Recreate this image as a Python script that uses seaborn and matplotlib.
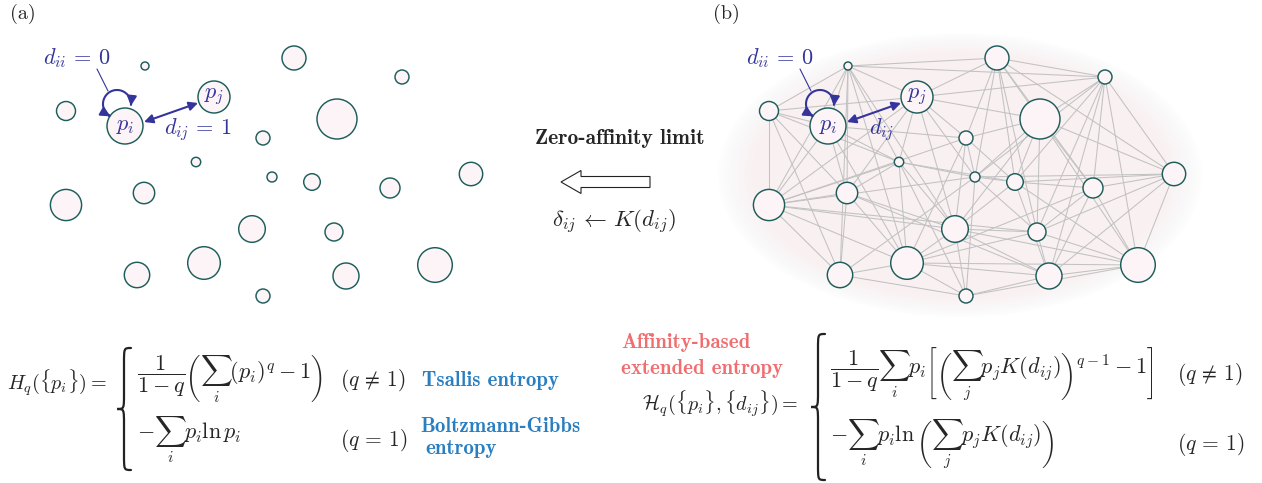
import numpy as np
import pandas as pd
import matplotlib
matplotlib.use('Agg')
import matplotlib.pyplot as plt
import seaborn as sns
from matplotlib.patches import Ellipse, FancyArrowPatch, FancyArrow, PathPatch
from matplotlib.path import Path
from matplotlib.collections import LineCollection

# %%
# Node layout of the toy system (pixel coords of panel (a)); panel (b) re-uses it
node_x = [294, 145, 402, 66, 125, 214, 337, 263, 196, 272, 312,
          390, 471, 66, 144, 252, 334, 137, 204, 346, 435, 263]
node_y = [58, 66, 77, 111, 126, 97, 119, 138, 162, 177, 182,
          188, 174, 205, 193, 229, 232, 275, 263, 276, 265, 296]
node_r = [12, 4, 7, 9.5, 18, 16, 20, 7, 4.7, 5, 8.3,
          10, 11.7, 15.6, 10.7, 13.3, 9, 12.7, 16.3, 13, 17.3, 7]

# affinity links drawn in panel (b)
edge_src = [0, 0, 0, 0, 0, 0, 0, 0, 0, 0,
            1, 1, 1, 1, 1, 1, 1, 1, 1, 1,
            2, 2, 2, 2, 2, 2, 2, 2, 2,
            3, 3, 3, 3, 3, 3,
            4, 4, 4, 4, 4,
            5, 5, 5, 5, 5, 5, 5,
            6, 6, 6, 6, 6, 6, 6, 6,
            7, 7, 7, 7, 7,
            8, 8, 8, 8, 8, 8, 8,
            9, 9, 9, 9, 9, 9,
            10, 10, 10, 10, 10,
            11, 11, 11, 11, 11,
            12, 12, 12,
            13, 13, 13, 13, 13,
            14, 14, 14, 14,
            15, 15, 15, 15, 15,
            16, 16, 16,
            17, 17,
            18, 18, 18,
            19, 19,
            20]
edge_dst = [1, 2, 5, 6, 7, 9, 10, 11, 12, 16,
            2, 3, 4, 5, 8, 13, 14, 15, 17, 18,
            5, 6, 10, 11, 12, 16, 19, 20, 9,
            4, 5, 8, 13, 14, 17,
            7, 8, 13, 14, 18,
            6, 7, 8, 9, 13, 14, 15,
            7, 9, 10, 11, 12, 15, 16, 20,
            9, 10, 13, 15, 18,
            9, 10, 13, 14, 15, 18, 21,
            10, 12, 13, 16, 17, 21,
            11, 12, 15, 19, 20,
            12, 16, 18, 19, 20,
            16, 19, 20,
            14, 15, 16, 17, 18,
            15, 17, 18, 19,
            16, 18, 19, 20, 21,
            18, 19, 20,
            18, 21,
            19, 20, 21,
            20, 21,
            21]

panel_labels = ['(a)', '(b)']
panel_shift = [0, 703]

# %%
sns.set_theme(style='white')
plt.rcParams['mathtext.fontset'] = 'cm'
plt.rcParams['font.family'] = ['DejaVu Serif']

edge_col = '#1d5e5a'
fill_col = '#fdf4f7'
ink = '#34349a'
blue = '#2a7fc1'
red = '#f06d70'

fig = plt.figure(figsize=(12.62, 4.83), dpi=100)
ax = fig.add_axes([0, 0, 1, 1])
ax.set_xlim(0, 1262)
ax.set_ylim(483, 0)
ax.axis('off')

nodes = pd.DataFrame({'x': node_x, 'y': node_y, 'r': node_r})

# soft pink halo behind the network in (b)
for sc in np.linspace(1.0, 0.86, 14):
    ax.add_patch(Ellipse((960, 175), 484 * sc, 284 * sc, fc='#f9e4ec',
                         ec='none', alpha=0.04, zorder=0))

# links of panel (b)
segs = [[(node_x[a] + panel_shift[1], node_y[a]), (node_x[b] + panel_shift[1], node_y[b])]
        for a, b in zip(edge_src, edge_dst)]
ax.add_collection(LineCollection(segs, colors='#c2c2c2', linewidths=0.75, zorder=1))

for lab, dx in zip(panel_labels, panel_shift):
    sns.scatterplot(x=nodes['x'] + dx, y=nodes['y'], s=(1.44 * nodes['r']) ** 2,
                    color=fill_col, edgecolor=edge_col, linewidth=1.05,
                    ax=ax, legend=False, zorder=3)
    ax.text(10 + dx, 14, lab, fontsize=14.5, family='cmr10', va='center', ha='left')

    # self loop d_ii
    th = np.deg2rad(np.linspace(242, -8, 60))
    loop = Path(np.column_stack([117 + dx + 14 * np.cos(th), 104 - 14 * np.sin(th)]))
    ax.add_patch(FancyArrowPatch(path=loop, arrowstyle='<|-|>', mutation_scale=14,
                                 lw=1.5, color=ink, zorder=5))
    ax.plot([97 + dx, 108 + dx], [69, 91], color=ink, lw=0.8, zorder=5)
    ax.text(77 + dx, 58, r'$d_{ii} \,=\, 0$', fontsize=16, color=ink, ha='center', va='center')

    # link p_i <-> p_j
    ax.add_patch(FancyArrowPatch((144 + dx, 122), (198 + dx, 103), arrowstyle='<|-|>',
                                 mutation_scale=13, lw=1.5, color=ink,
                                 shrinkA=0, shrinkB=0, zorder=5))
    ax.text(125 + dx, 125, r'$p_i$', fontsize=16, color=ink, ha='center', va='center', zorder=6)
    ax.text(214 + dx, 96, r'$p_j$', fontsize=16, color=ink, ha='center', va='center', zorder=6)

ax.text(198, 130, r'$d_{ij} \,=\, 1$', fontsize=16, color=ink, ha='center', va='center')
ax.text(882, 130, r'$d_{ij}$', fontsize=16, color=ink, ha='center', va='center')

# middle: zero-affinity limit
ax.text(620, 139, 'Zero-affinity limit', family='cmb10', fontsize=15.5, ha='center', va='center')
ax.add_patch(FancyArrow(650, 182, -89, 0, width=11, head_width=23, head_length=20,
                        length_includes_head=True, fc='white', ec='#222222', lw=0.8))
ax.text(614, 222, r'$\delta_{ij} \,\leftarrow\, K(d_{ij})$', fontsize=16.5, ha='center', va='center')


def brace(x_right, y_top, y_bot, w):
    xm = x_right - 0.5 * w
    tip = x_right - w
    ym = 0.5 * (y_top + y_bot)
    c = 1.1 * w
    verts = [(x_right, y_top), (xm, y_top), (xm, y_top), (xm, y_top + c),
             (xm, ym - c),
             (xm, ym), (xm, ym), (tip, ym),
             (xm, ym), (xm, ym), (xm, ym + c),
             (xm, y_bot - c),
             (xm, y_bot), (xm, y_bot), (x_right, y_bot)]
    codes = [Path.MOVETO, Path.CURVE4, Path.CURVE4, Path.CURVE4,
             Path.LINETO,
             Path.CURVE4, Path.CURVE4, Path.CURVE4,
             Path.CURVE4, Path.CURVE4, Path.CURVE4,
             Path.LINETO,
             Path.CURVE4, Path.CURVE4, Path.CURVE4]
    ax.add_patch(PathPatch(Path(verts, codes), fc='none', ec='#222222', lw=1.6,
                           capstyle='round'))


# left: Tsallis / Boltzmann-Gibbs
fs = 16
ax.text(107, 383, r'$H_q(\{p_i\}) =$', fontsize=14.5, ha='right', va='center')
brace(131, 348, 470, 14)
ax.text(137, 378, r'$\dfrac{1}{1-q}\left(\sum_i (p_i)^q - 1\right)$', fontsize=fs, va='center')
ax.text(137, 440, r'$-\sum_i p_i \ln p_i$', fontsize=fs, va='center')
ax.text(340, 380, r'$(q \,\neq\, 1)$', fontsize=15.5, va='center')
ax.text(340, 440, r'$(q \,=\, 1)$', fontsize=15.5, va='center')
ax.text(422, 380, 'Tsallis entropy', family='cmb10', fontsize=15, color=blue, va='center')
ax.text(420, 426, 'Boltzmann-Gibbs', family='cmb10', fontsize=15, color=blue, va='center')
ax.text(425, 448, 'entropy', family='cmb10', fontsize=15, color=blue, va='center')

# right: affinity-based extended entropy
ax.text(621, 343, 'Affinity-based', family='cmb10', fontsize=15, color=red, va='center')
ax.text(621, 369, 'extended entropy', family='cmb10', fontsize=15, color=red, va='center')
ax.text(798, 404, r'$\mathcal{H}_q(\{p_i\},\{d_{ij}\}) =$', fontsize=14.5, ha='right', va='center')
brace(825, 334, 480, 14)
ax.text(830, 374, r'$\dfrac{1}{1-q}\sum_i p_i\left[\left(\sum_j p_j K(d_{ij})\right)^{q-1} - 1\right]$',
        fontsize=fs, va='center')
ax.text(830, 444, r'$-\sum_i p_i \ln\left(\sum_j p_j K(d_{ij})\right)$', fontsize=fs, va='center')
ax.text(1177, 374, r'$(q \,\neq\, 1)$', fontsize=15.5, va='center')
ax.text(1177, 444, r'$(q \,=\, 1)$', fontsize=15.5, va='center')

fig.savefig('out.png', dpi=100, facecolor='white')
